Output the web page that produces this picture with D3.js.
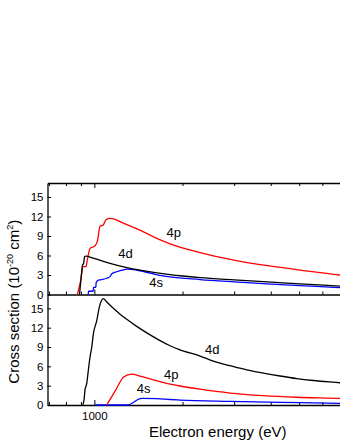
<!DOCTYPE html>
<html>
<head>
<meta charset="utf-8">
<script src="https://d3js.org/d3.v7.min.js"></script>
<style>
body { margin: 0; background: #fff; }
text { font-family: "Liberation Sans", Arial, sans-serif; fill: #000; }
</style>
</head>
<body>
<div id="chart"></div>
<script>
// energies (eV) and cross sections (1e-20 cm2)
// top panel
var top4dE = [890, 901, 911, 919, 926, 933, 990, 1131, 1290, 1432, 1813, 2296, 2997, 4017, 5035, 6900, 7100];
var top4dS = [0, 2.5, 4.5, 4.8, 5.8, 5.9, 5.6, 4.8, 4.15, 3.75, 3.05, 2.6, 2.25, 1.9, 1.62, 1.3, 1.27];
var top4pE = [875, 894, 917, 937, 946, 967, 1006, 1024, 1046, 1073, 1096, 1131, 1177, 1224, 1432, 1611, 1813, 2296, 2997, 4017, 5035, 6900, 7100];
var top4pS = [0, 1.7, 4.3, 4.3, 5.3, 7.1, 7.5, 8.2, 10.5, 10.7, 11.5, 11.7, 11.55, 11.2, 9.9, 8.75, 7.8, 6.45, 5.3, 4.35, 3.75, 3.0, 2.95];
var top4sE = [953, 955, 991, 993, 1012, 1014, 1032, 1046, 1102, 1131, 1147, 1192, 1256, 1290, 1341, 1432, 1549, 1676, 1813, 2296, 2997, 4017, 5035, 6900, 7100];
var top4sS = [0, 0.5, 0.5, 1.1, 1.1, 1.8, 2.2, 2.25, 2.5, 2.75, 3.2, 3.5, 3.8, 3.9, 3.85, 3.65, 3.3, 2.95, 2.7, 2.3, 1.95, 1.6, 1.35, 1.05, 1.03];
// bottom panel
var bot4dE = [913, 922, 929, 942, 954, 967, 980, 992, 1019, 1040, 1060, 1073, 1102, 1161, 1224, 1290, 1395, 1510, 1676, 1813, 1961, 2296, 2548, 2905, 3312, 3774, 4303, 4907, 5589, 6900, 7100];
var bot4dS = [0, 0.77, 2.3, 3.35, 5.4, 7.5, 9.0, 11.0, 13.1, 15.2, 16.3, 16.5, 16.0, 15.0, 14.1, 13.3, 12.2, 11.2, 10.0, 9.2, 8.55, 7.6, 6.8, 6.1, 5.45, 4.95, 4.5, 4.1, 3.8, 3.45, 3.4];
var bot4pE = [1102, 1147, 1192, 1256, 1341, 1432, 1590, 1813, 1961, 2296, 2905, 3774, 4907, 6900, 7100];
var bot4pS = [0, 1.3, 2.6, 4.3, 4.8, 4.5, 3.9, 3.25, 2.95, 2.45, 1.85, 1.45, 1.2, 1.03, 1.01];
var bot4sE = [1006, 1293, 1451, 1633, 1813, 1961, 2905, 4303, 6900, 7100];
var bot4sS = [0, 0, 1.03, 1.0, 0.85, 0.77, 0.57, 0.42, 0.26, 0.25];

var yTicks = [0, 3, 6, 9, 12, 15];
var xTicks = [700, 800, 900, 1000, 2000, 3000, 4000, 5000, 6000, 7000, 8000, 9000];

var W = 340, H = 440;
var svg = d3.select("#chart").append("svg")
  .attr("width", W)
  .attr("height", H);

var left = 47.5, topY = 183, midY = 294.5, botY = 405;

var x = d3.scaleLog()
  .domain([692, 10000])
  .range([left, left + 293 * Math.log10(10000 / 692)]);

var yTop = d3.scaleLinear().domain([0, 17.15]).range([midY, topY]);
var yBot = d3.scaleLinear().domain([0, 17.15]).range([botY, midY]);

function styleAxis(g) {
  g.select(".domain").attr("stroke", "#000").attr("stroke-width", 1.3);
  g.selectAll(".tick line").attr("stroke", "#000").attr("stroke-width", 1);
  g.selectAll(".tick text").attr("font-size", 11.5).attr("font-family", "Liberation Sans, Arial, sans-serif");
}

// x axes: top border, middle line, bottom axis
svg.append("g")
  .attr("transform", "translate(0," + topY + ")")
  .call(d3.axisTop(x).tickValues(xTicks).tickSize(-3).tickSizeOuter(0).tickFormat(""))
  .call(styleAxis);

svg.append("g")
  .attr("transform", "translate(0," + midY + ")")
  .call(d3.axisBottom(x).tickValues(xTicks).tickSize(-3).tickSizeOuter(0).tickFormat(""))
  .call(styleAxis);

svg.append("g")
  .attr("transform", "translate(0," + botY + ")")
  .call(d3.axisBottom(x).tickValues(xTicks).tickSize(-3).tickSizeOuter(0).tickPadding(7)
    .tickFormat(function(d) { return d == 1000 ? "1000" : ""; }))
  .call(styleAxis);

// longer major tick
svg.selectAll(".tick").filter(function(d) { return d == 1000; })
  .select("line").attr("y2", function() { return +d3.select(this).attr("y2") > 0 ? 5 : -5; });

// y axes
svg.append("g")
  .attr("transform", "translate(" + left + ",0)")
  .call(d3.axisLeft(yTop).tickValues(yTicks).tickSize(-3.5).tickSizeOuter(0).tickPadding(4))
  .call(styleAxis);

svg.append("g")
  .attr("transform", "translate(" + left + ",0)")
  .call(d3.axisLeft(yBot).tickValues(yTicks).tickSize(-3.5).tickSizeOuter(0).tickPadding(4))
  .call(styleAxis);

// curves
function drawLine(E, S, y, color) {
  var pts = E.map(function(e, i) { return [e, S[i]]; });
  svg.append("path")
    .datum(pts)
    .attr("fill", "none")
    .attr("stroke", color)
    .attr("stroke-width", 1.3)
    .attr("stroke-linejoin", "round")
    .attr("d", d3.line()
      .curve(d3.curveMonotoneX)
      .x(function(d) { return x(d[0]); })
      .y(function(d) { return y(d[1]); }));
}

drawLine(top4sE, top4sS, yTop, "#0000ff");
drawLine(top4pE, top4pS, yTop, "#ff0000");
drawLine(top4dE, top4dS, yTop, "#000000");

drawLine(bot4sE, bot4sS, yBot, "#0000ff");
drawLine(bot4pE, bot4pS, yBot, "#ff0000");
drawLine(bot4dE, bot4dS, yBot, "#000000");

// curve labels
function label(txt, px, py) {
  svg.append("text")
    .attr("x", px)
    .attr("y", py)
    .attr("font-size", 13)
    .text(txt);
}
label("4p", 166.5, 236.7);
label("4d", 118.3, 258.3);
label("4s", 149.3, 286.7);
label("4d", 205, 354.3);
label("4p", 164, 379.3);
label("4s", 136.7, 393.3);

// axis titles
svg.append("text")
  .attr("x", 217.7)
  .attr("y", 436.5)
  .attr("text-anchor", "middle")
  .attr("font-size", 15)
  .text("Electron energy (eV)");

var yl = svg.append("text")
  .attr("transform", "translate(18.5,301.7) rotate(-90)")
  .attr("text-anchor", "middle")
  .attr("font-size", 15);
yl.append("tspan").text("Cross section (10");
yl.append("tspan").attr("font-size", 9).attr("dy", -6).text("-20");
yl.append("tspan").attr("dy", 6).text(" cm");
yl.append("tspan").attr("font-size", 9).attr("dy", -6).text("2");
yl.append("tspan").attr("dy", 6).text(")");
</script>
</body>
</html>
